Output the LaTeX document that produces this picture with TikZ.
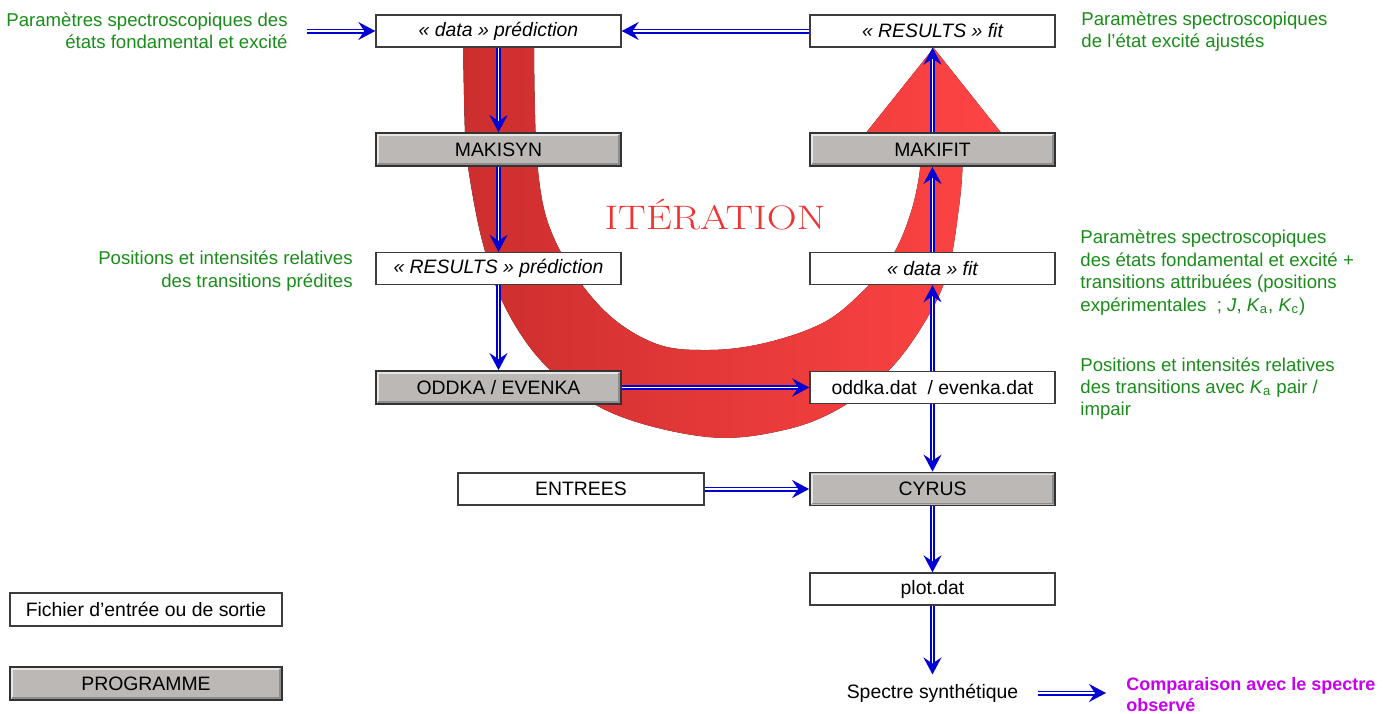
\documentclass[tikz,border=0pt]{standalone}
\usepackage{fontspec}
\setsansfont{Liberation Sans}
\usetikzlibrary{arrows.meta}
\definecolor{arrowblue}{RGB}{0,0,210}
\definecolor{txtgreen}{RGB}{25,140,25}
\definecolor{txtmagenta}{RGB}{200,0,240}
\definecolor{redL}{RGB}{204,46,46}
\definecolor{redM}{RGB}{255,34,34}
\definecolor{redR}{RGB}{255,68,68}
\definecolor{iterred}{RGB}{240,50,50}
\definecolor{progfill}{RGB}{188,184,182}
\definecolor{boxline}{RGB}{60,60,60}
\tikzset{
  basefont/.style={font=\sffamily\fontsize{9.7}{11.5}\selectfont},
  filebox/.style={basefont, draw=boxline, line width=0.7pt, fill=white,
    minimum width=122.5pt, minimum height=16pt, inner sep=0pt},
  progbox/.style={basefont, draw=black!80, line width=0.9pt, fill=progfill,
    minimum width=122.5pt, minimum height=16.5pt, inner sep=0pt,
    path picture={
      \draw[white!65!progfill, line width=0.8pt]
        ([xshift=1pt,yshift=1pt]path picture bounding box.south west) --
        ([xshift=1pt,yshift=-1pt]path picture bounding box.north west) --
        ([xshift=-1pt,yshift=-1pt]path picture bounding box.north east);
      \draw[black!45, line width=0.8pt]
        ([xshift=-1pt,yshift=-1pt]path picture bounding box.north east) --
        ([xshift=-1pt,yshift=1pt]path picture bounding box.south east) --
        ([xshift=1pt,yshift=1pt]path picture bounding box.south west);
    }},
  greentext/.style={font=\sffamily\fontsize{9.3}{11.2}\selectfont, text=txtgreen, inner sep=0pt},
  dbl/.style={draw=arrowblue, line width=0.8pt, double=white, double distance=0.9pt,
    -{Stealth[length=8.5pt,width=9pt,inset=3pt]}},
}
\begin{document}
\begin{tikzpicture}[x=0.5pt,y=-0.5pt]
\useasboundingbox (0,0) rectangle (1386,713);

% big red iteration arrow
\fill[left color=redL, middle color=redM, right color=redR]
  (463,42) -- plot[smooth, tension=0.6] coordinates {(463,42) (465,133) (468,167) (482,240) (505,307) (547,367) (612,413) (708,437) (784,430) (842,407) (892,367) (930,313) (949,267) (959,207) (962.5,167) (962.5,132)}
  -- (1000.5,132) -- (933.7,48) -- (866.7,132) -- (920.3,132)
  -- plot[smooth, tension=0.6] coordinates {(920.3,132) (920.3,167) (910.7,213) (891.6,257) (861,293) (822.7,323) (765,343) (708,350) (654,343) (600.7,307) (554.8,240) (537.6,167) (534,42)}
  -- cycle;

\node[text=iterred, font=\rmfamily\fontsize{17}{20}\selectfont] (iter) at (715,215) {\scalebox{1.22}[1]{ITÉRATION}};

% boxes
\node[filebox] (dpred) at (498.5,31) {\itshape « data » prédiction};
\node[filebox] (rfit) at (932.5,31) {\itshape « RESULTS » fit};
\node[progbox] (makisyn) at (498.5,149.5) {MAKISYN};
\node[progbox] (makifit) at (932.5,149.5) {MAKIFIT};
\node[filebox] (rpred) at (498.5,268.5) {\itshape « RESULTS » prédiction};
\node[filebox] (dfit) at (932.5,268.5) {\itshape « data » fit};
\node[progbox] (oddka) at (498.5,387.5) {ODDKA / EVENKA};
\node[filebox] (odat) at (932.5,387.5) {oddka.dat\ \ / evenka.dat};
\node[filebox, minimum width=123pt] (entrees) at (581,489) {ENTREES};
\node[progbox] (cyrus) at (932.5,489) {CYRUS};
\node[filebox] (plot) at (932.5,589) {plot.dat};
\node[filebox, minimum width=136pt, minimum height=16.5pt] (fichier) at (146,609.5) {Fichier d’entrée ou de sortie};
\node[progbox, minimum width=136pt] (programme) at (146,683.5) {PROGRAMME};
\node[basefont, inner xsep=9.5pt, inner ysep=4.5pt] (spectre) at (932.5,693) {Spectre synthétique};
\node[font=\sffamily\bfseries\fontsize{9}{10.5}\selectfont, text=txtmagenta, anchor=west, align=left, inner sep=0pt] (comp) at (1126,695) {Comparaison avec le spectre\\observé};

% green annotations
\node[greentext, anchor=east, align=right] (g1) at (288,30.5) {Paramètres spectroscopiques des\\états fondamental et excité};
\node[greentext, anchor=west, align=left] (g2) at (1081,31.5) {Paramètres spectroscopiques\\de l’état excité ajustés};
\node[greentext, anchor=east, align=right] (g3) at (353,271) {Positions et intensités relatives\\des transitions prédites};
\node[greentext, anchor=west, align=left] (g4) at (1080,272.5) {Paramètres spectroscopiques\\des états fondamental et excité +\\transitions attribuées (positions\\expérimentales\ \ ; \textit{J}, \textit{K}\textsubscript{a}, \textit{K}\textsubscript{c})};
\node[greentext, anchor=west, align=left] (g5) at (1080,388.5) {Positions et intensités relatives\\des transitions avec \textit{K}\textsubscript{a} pair /\\impair};

% connectors
\coordinate (in1) at (307,31);
\coordinate (out1) at (1106,693);
\draw[dbl] (in1) -- (dpred);
\draw[dbl] (rfit) -- (dpred);
\draw[dbl] (dpred) -- (makisyn);
\draw[dbl] (makisyn) -- (rpred);
\draw[dbl] (rpred) -- (oddka);
\draw[dbl] (oddka) -- (odat);
\draw[dbl] (odat) -- (dfit);
\draw[dbl] (dfit) -- (makifit);
\draw[dbl] (makifit) -- (rfit);
\draw[dbl] (odat) -- (cyrus);
\draw[dbl] (entrees) -- (cyrus);
\draw[dbl] (cyrus) -- (plot);
\draw[dbl] (plot) -- (spectre);
\draw[dbl] (spectre) -- (out1);
\end{tikzpicture}
\end{document}
